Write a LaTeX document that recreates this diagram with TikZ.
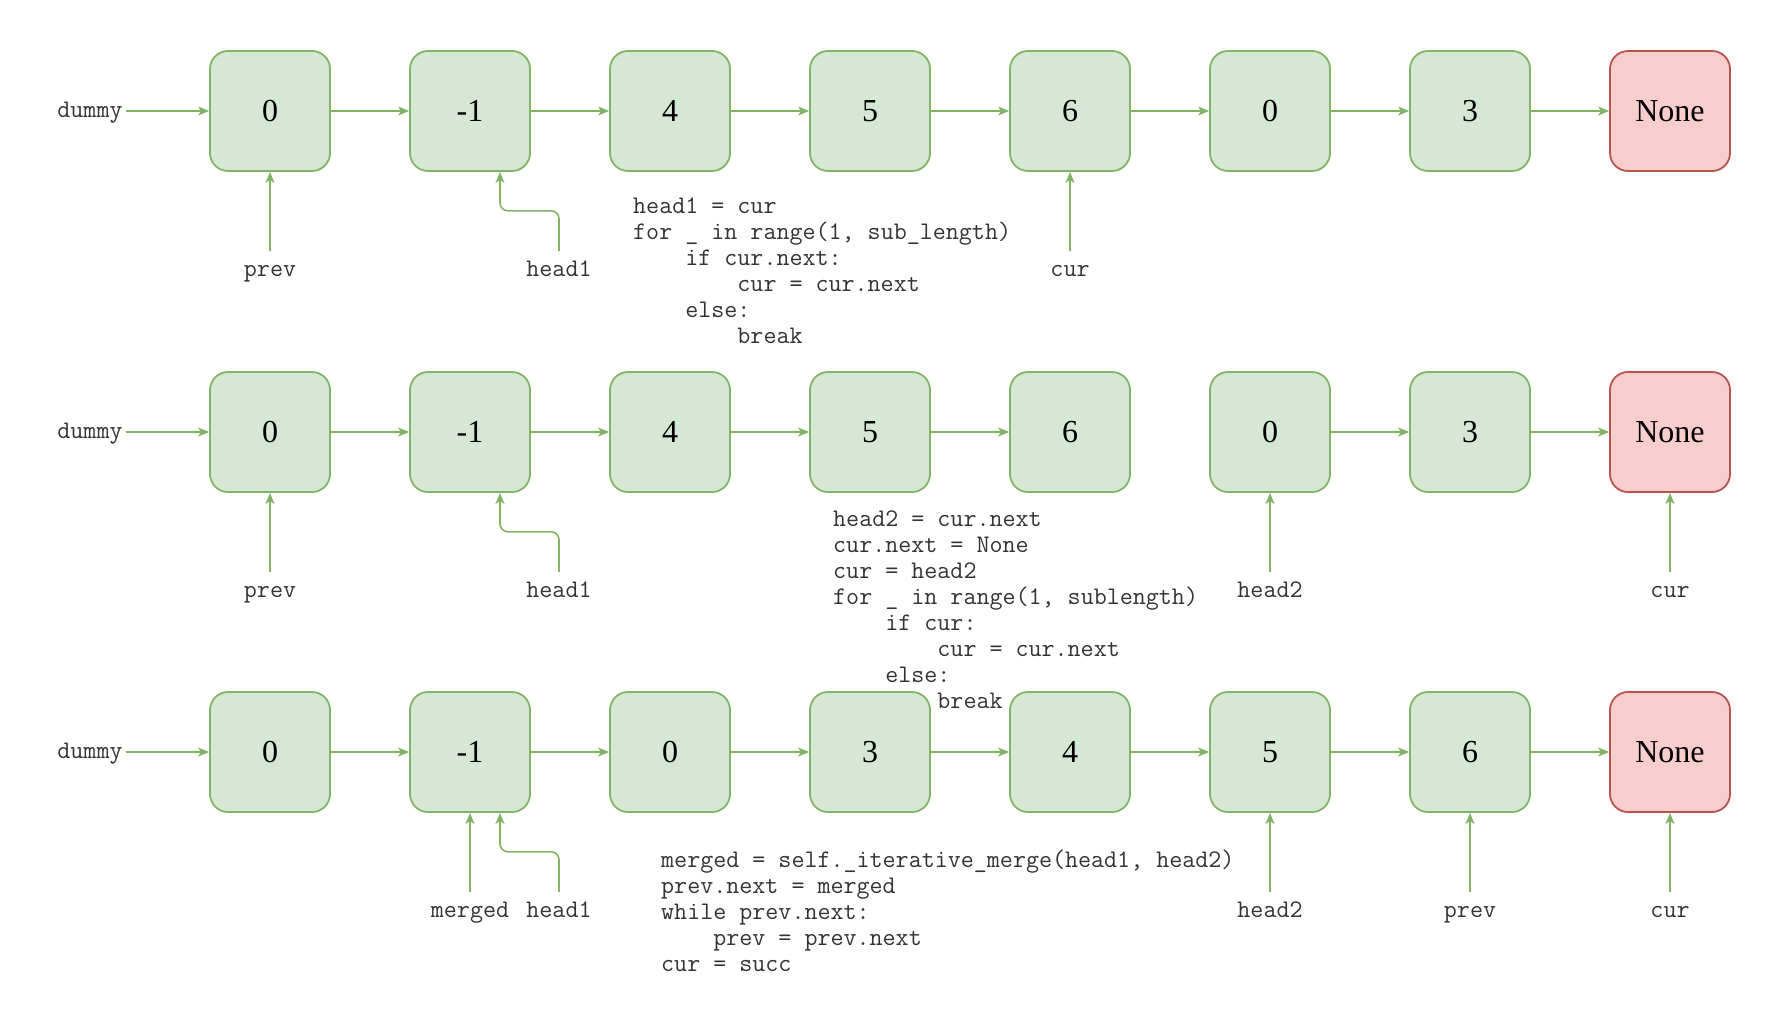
\documentclass[tikz,border=0pt]{standalone}
\usepackage{fontspec}
\setmainfont{Liberation Serif}
\usetikzlibrary{arrows.meta}
\definecolor{gfill}{HTML}{D5E8D4}
\definecolor{gline}{HTML}{82B366}
\definecolor{rfill}{HTML}{F8CECC}
\definecolor{rline}{HTML}{B85450}
\definecolor{txt}{HTML}{333333}
\newcommand\myind[1]{\hphantom{#1}}
\begin{document}
\begin{tikzpicture}[x=1pt,y=-1pt,
  nd/.style={draw=gline, fill=gfill, line width=1.8pt, rounded corners=18pt,
    minimum width=120pt, minimum height=120pt, inner sep=0pt,
    font=\fontsize{32}{36}\selectfont},
  nonend/.style={nd, draw=rline, fill=rfill},
  lbl/.style={font=\fontsize{25.3}{28}\selectfont\ttfamily, text=txt,
    text height=16pt, text depth=3pt, inner ysep=9pt, inner xsep=3pt},
  codeline/.style={font=\fontsize{25.3}{28}\selectfont\ttfamily, text=txt,
    inner sep=0pt, anchor=base west},
  link/.style={draw=gline, line width=1.6pt, -{Stealth[length=11pt,width=9pt,inset=3pt]}},
  bentlink/.style={link, rounded corners=8pt},
]
\useasboundingbox (0,0) rectangle (1782,1028);

% rows of nodes
\foreach \r/\yc/\vals in {1/111/{0,-1,4,5,6,0,3},2/432/{0,-1,4,5,6,0,3},3/752/{0,-1,0,3,4,5,6}}{
  \foreach \v [count=\i from 0] in \vals {
    \node[nd] (r\r n\i) at (270+200*\i,\yc) {\v};
  }
  \node[nonend] (r\r n7) at (1670,\yc) {None};
  \node[lbl] (r\r d) at (90,\yc) {dummy};
  \draw[link] (r\r d) -- (r\r n0);
}

% links
\foreach \i [evaluate=\i as \j using int(\i+1)] in {0,...,6}{
  \draw[link] (r1n\i) -- (r1n\j);
  \draw[link] (r3n\i) -- (r3n\j);
}
\foreach \i [evaluate=\i as \j using int(\i+1)] in {0,1,2,3,5,6}{
  \draw[link] (r2n\i) -- (r2n\j);
}

% row 1 pointers
\node[lbl, anchor=base] (r1prev) at (270,276) {prev};
\node[lbl, anchor=base] (r1h1) at (559,276) {head1};
\node[lbl, anchor=base] (r1cur) at (1070,276) {cur};
\draw[link] (r1prev) -- (r1n0);
\draw[bentlink] (r1h1.north) -- ++(0,-40) -| ([xshift=30pt]r1n1.south);
\draw[link] (r1cur) -- (r1n4);

% row 2 pointers
\node[lbl, anchor=base] (r2prev) at (270,597) {prev};
\node[lbl, anchor=base] (r2h1) at (559,597) {head1};
\node[lbl, anchor=base] (r2h2) at (1270,597) {head2};
\node[lbl, anchor=base] (r2cur) at (1670,597) {cur};
\draw[link] (r2prev) -- (r2n0);
\draw[bentlink] (r2h1.north) -- ++(0,-40) -| ([xshift=30pt]r2n1.south);
\draw[link] (r2h2) -- (r2n5);
\draw[link] (r2cur) -- (r2n7);

% row 3 pointers
\node[lbl, anchor=base] (r3m) at (470,917) {merged};
\node[lbl, anchor=base] (r3h1) at (559,917) {head1};
\node[lbl, anchor=base] (r3h2) at (1270,917) {head2};
\node[lbl, anchor=base] (r3prev) at (1470,917) {prev};
\node[lbl, anchor=base] (r3cur) at (1670,917) {cur};
\draw[link] (r3m) -- (r3n1);
\draw[bentlink] (r3h1.north) -- ++(0,-40) -| ([xshift=30pt]r3n1.south);
\draw[link] (r3h2) -- (r3n5);
\draw[link] (r3prev) -- (r3n6);
\draw[link] (r3cur) -- (r3n7);

% code 1
\foreach \t [count=\i from 0] in {
  {head1 = cur},
  {for \_ in range(1, sub\_length)},
  {\myind{xxxx}if cur.next:},
  {\myind{xxxxxxxx}cur = cur.next},
  {\myind{xxxx}else:},
  {\myind{xxxxxxxx}break}}{
  \node[codeline] (ca\i) at (633,213+26*\i) {\t};
}

% code 2
\foreach \t [count=\i from 0] in {
  {head2 = cur.next},
  {cur.next = None},
  {cur = head2},
  {for \_ in range(1, sublength)},
  {\myind{xxxx}if cur:},
  {\myind{xxxxxxxx}cur = cur.next},
  {\myind{xxxx}else:},
  {\myind{xxxxxxxx}break}}{
  \node[codeline] (cb\i) at (833,526+26*\i) {\t};
}

% code 3
\foreach \t [count=\i from 0] in {
  {merged = self.\_iterative\_merge(head1, head2)},
  {prev.next = merged},
  {while prev.next:},
  {\myind{xxxx}prev = prev.next},
  {cur = succ}}{
  \node[codeline] (cc\i) at (661,867+26*\i) {\t};
}
\end{tikzpicture}
\end{document}
